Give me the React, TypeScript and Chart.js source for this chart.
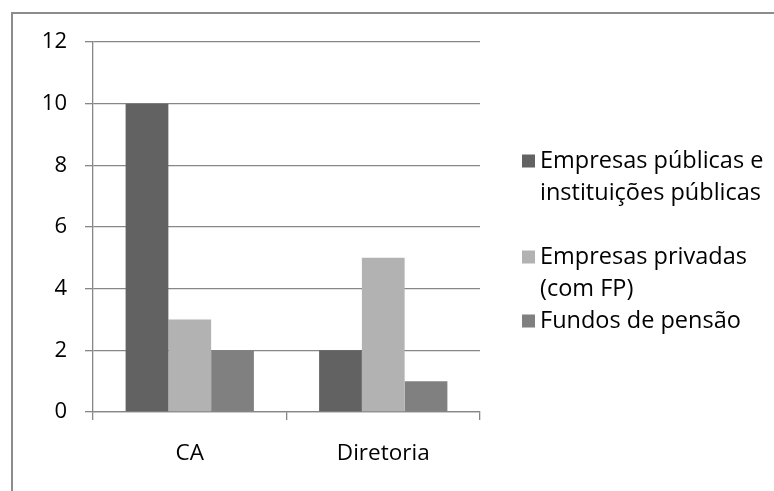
import React, { useEffect, useRef } from "react";
import { Chart, registerables } from "chart.js";

Chart.register(...registerables);

const categories = ["CA", "Diretoria"];
const seriesNames = [
  ["Empresas públicas e", "instituições públicas"],
  ["Empresas privadas", "(com FP)"],
  ["Fundos de pensão"],
];
const seriesValues = [
  [10, 2],
  [3, 5],
  [2, 1],
];
const seriesColors = ["#626262", "#b2b2b2", "#808080"];
const yTicks = [0, 2, 4, 6, 8, 10, 12];

const FONT = "'Open Sans', sans-serif";
const AXIS_GRAY = "#878787";

const framePlugin = {
  id: "frame",
  beforeDraw(chart: any) {
    const ctx = chart.ctx;
    ctx.save();
    ctx.fillStyle = "#ffffff";
    ctx.fillRect(0, 0, chart.width, chart.height);
    ctx.strokeStyle = "#8c8c8c";
    ctx.lineWidth = 2;
    ctx.beginPath();
    ctx.moveTo(12, chart.height + 2);
    ctx.lineTo(12, 13);
    ctx.lineTo(chart.width + 2, 13);
    ctx.stroke();
    ctx.restore();
  },
};

const legendPlugin = {
  id: "sideLegend",
  afterDraw(chart: any) {
    const ctx = chart.ctx;
    const centers = [161, 257, 321];
    const lineStep = 32;
    ctx.save();
    ctx.font = `23.5px ${FONT}`;
    ctx.textBaseline = "middle";
    ctx.textAlign = "left";
    chart.data.datasets.forEach((ds: any, i: number) => {
      const cy = centers[i];
      ctx.fillStyle = ds.backgroundColor;
      ctx.fillRect(522, cy - 6.5, 13, 13);
      ctx.fillStyle = "#000000";
      const lines: string[] = ds.labelLines;
      lines.forEach((t, j) => ctx.fillText(t, 540, cy + j * lineStep));
    });
    ctx.restore();
  },
};

export default function App() {
  const ref = useRef<HTMLCanvasElement>(null);
  useEffect(() => {
    if (!ref.current) return;
    const chart = new Chart(ref.current, {
      type: "bar",
      data: {
        labels: categories,
        datasets: seriesValues.map((vals, i) => ({
          label: seriesNames[i].join(" "),
          labelLines: seriesNames[i],
          data: vals,
          backgroundColor: seriesColors[i],
          borderWidth: 0,
          categoryPercentage: 0.663,
          barPercentage: 1,
        })) as any,
      },
      options: {
        animation: false,
        responsive: true,
        maintainAspectRatio: false,
        layout: { padding: { left: 0, top: 42, right: 294, bottom: 0 } },
        plugins: {
          legend: { display: false },
          tooltip: { enabled: false },
        },
        scales: {
          x: {
            offset: true,
            grid: {
              offset: true,
              drawOnChartArea: false,
              tickLength: 8,
              color: AXIS_GRAY,
              lineWidth: 1.3,
            },
            border: { color: AXIS_GRAY, width: 1.3 },
            ticks: { font: { family: FONT, size: 22.5 }, color: "#000", padding: 20 },
            afterFit: (s: any) => {
              s.height = 79;
            },
          },
          y: {
            min: 0,
            max: 12,
            afterBuildTicks: (s: any) => {
              s.ticks = yTicks.map((v) => ({ value: v }));
            },
            grid: { tickLength: 8, color: AXIS_GRAY, lineWidth: 1.3 },
            border: { color: AXIS_GRAY, width: 1.3 },
            ticks: { font: { family: FONT, size: 22 }, color: "#000", padding: 18 },
            afterFit: (s: any) => {
              s.width = 93;
            },
          },
        },
      },
      plugins: [framePlugin, legendPlugin],
    });
    return () => chart.destroy();
  }, []);
  return (
    <div style={{ position: "fixed", left: 0, top: 0, width: 774, height: 491 }}>
      <canvas ref={ref} />
    </div>
  );
}
